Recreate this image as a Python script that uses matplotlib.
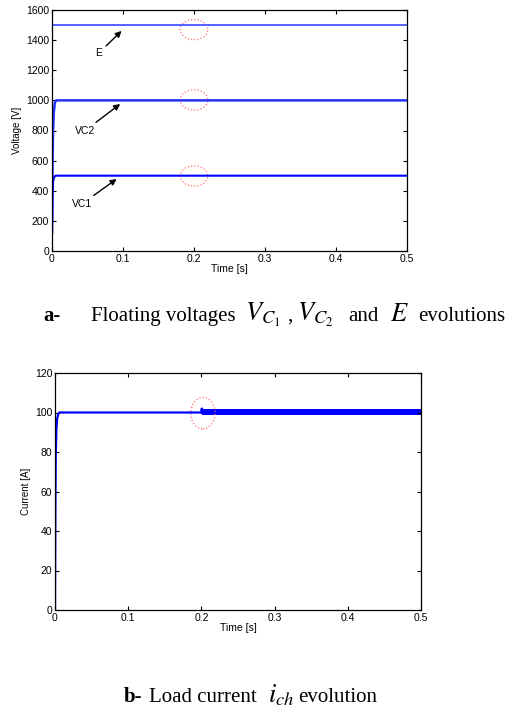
import matplotlib
matplotlib.use("Agg")
import matplotlib.pyplot as plt
from matplotlib.patches import Ellipse

# ── data ------------------------------------------------------------------- #
t_e = [0.0, 0.5]
v_e = [1500, 1500]

t_vc2 = [0.0, 0.0008, 0.0015, 0.0025, 0.004, 0.006, 0.5]
v_vc2 = [120, 600, 800, 920, 985, 1000, 1000]

t_vc1 = [0.0, 0.0008, 0.0015, 0.003, 0.005, 0.5]
v_vc1 = [120, 380, 460, 490, 500, 500]

t_ich = [0.0, 0.0005, 0.001, 0.002, 0.003, 0.0045, 0.006, 0.2, 0.2005, 0.201]
i_ich = [0, 50, 78, 92, 97, 99.3, 100, 100, 102, 100]

# ripple band after the 0.2 s step
band_t = [0.201, 0.5]
band_lo = [98.6, 98.6]
band_hi = [101.8, 101.8]

# dotted circles (x, y) marking the 0.2 s event
marks_v = [(0.2, 1470), (0.2, 1003), (0.2, 498)]
marks_i = [(0.202, 99.7)]

W, H = 510, 709
plt.rcParams["font.family"] = ["Liberation Sans", "DejaVu Sans"]
plt.rcParams["mathtext.fontset"] = "stix"

fig = plt.figure(figsize=(W / 100, H / 100), dpi=100)


def style(ax):
    ax.tick_params(direction="in", top=True, right=True, length=3, width=0.8,
                   labelsize=7.5, pad=2)
    for s in ax.spines.values():
        s.set_linewidth(0.9)


# ── (a) voltages ----------------------------------------------------------- #
ax1 = fig.add_axes([52 / W, 1 - 251 / H, 355 / W, 241 / H])
ax1.plot(t_e, v_e, color="#4455ff", lw=1.3)
ax1.plot(t_vc2, v_vc2, color="#2233ff", lw=1.8)
ax1.plot(t_vc1, v_vc1, color="#0000ff", lw=1.5)
for x, y in marks_v:
    ax1.add_patch(Ellipse((x, y), 0.039, 135, fill=False, ec="#ff7070",
                          ls=":", lw=0.9))
arrow = dict(arrowstyle="-|>", color="k", lw=1, mutation_scale=9,
             shrinkA=1, shrinkB=0)
ax1.annotate("E", xy=(0.098, 1461), xytext=(0.066, 1315), fontsize=7.5,
             ha="center", va="center", arrowprops=arrow)
ax1.annotate("VC2", xy=(0.096, 976), xytext=(0.046, 797), fontsize=7.5,
             ha="center", va="center", arrowprops=arrow)
ax1.annotate("VC1", xy=(0.091, 478), xytext=(0.042, 312), fontsize=7.5,
             ha="center", va="center", arrowprops=arrow)
ax1.set_xlim(0, 0.5)
ax1.set_ylim(0, 1600)
ax1.set_xticks([0, 0.1, 0.2, 0.3, 0.4, 0.5])
ax1.set_xticklabels(["0", "0.1", "0.2", "0.3", "0.4", "0.5"])
ax1.set_yticks(range(0, 1601, 200))
ax1.set_xlabel("Time [s]", fontsize=7.5, labelpad=0)
ax1.set_ylabel("Voltage [V]", fontsize=7, labelpad=3)
style(ax1)

# ── (b) load current ------------------------------------------------------- #
ax2 = fig.add_axes([55 / W, 1 - 610 / H, 366 / W, 237 / H])
ax2.plot(t_ich, i_ich, color="#0000ff", lw=1.6)
ax2.fill_between(band_t, band_lo, band_hi, color="#0000ff", lw=0)
for x, y in marks_i:
    ax2.add_patch(Ellipse((x, y), 0.033, 16, fill=False, ec="#ff7070",
                          ls=":", lw=0.9))
ax2.set_xlim(0, 0.5)
ax2.set_ylim(0, 120)
ax2.set_xticks([0, 0.1, 0.2, 0.3, 0.4, 0.5])
ax2.set_xticklabels(["0", "0.1", "0.2", "0.3", "0.4", "0.5"])
ax2.set_yticks(range(0, 121, 20))
ax2.set_xlabel("Time [s]", fontsize=7.5, labelpad=0)
ax2.set_ylabel("Current [A]", fontsize=7, labelpad=3)
style(ax2)

# ── captions --------------------------------------------------------------- #
serif = ["Liberation Serif", "DejaVu Serif"]


def cap(x, y, s, size=15, weight="normal"):
    fig.text(x / W, 1 - y / H, s, fontsize=size, fontweight=weight,
             family=serif, va="baseline", ha="left")


cap(43, 321, "a-", weight="bold")
cap(91, 321, "Floating voltages")
cap(245, 321, r"$V_{C_1}$", size=19)
cap(287, 321, ",")
cap(297, 321, r"$V_{C_2}$", size=19)
cap(348, 321, "and")
cap(390, 321, r"$E$", size=19)
cap(418, 321, "evolutions")

cap(124, 702, "b-", weight="bold")
cap(149, 702, "Load current")
cap(268, 702, r"$i_{ch}$", size=19)
cap(298, 702, "evolution")

fig.savefig("out.png", dpi=100)
